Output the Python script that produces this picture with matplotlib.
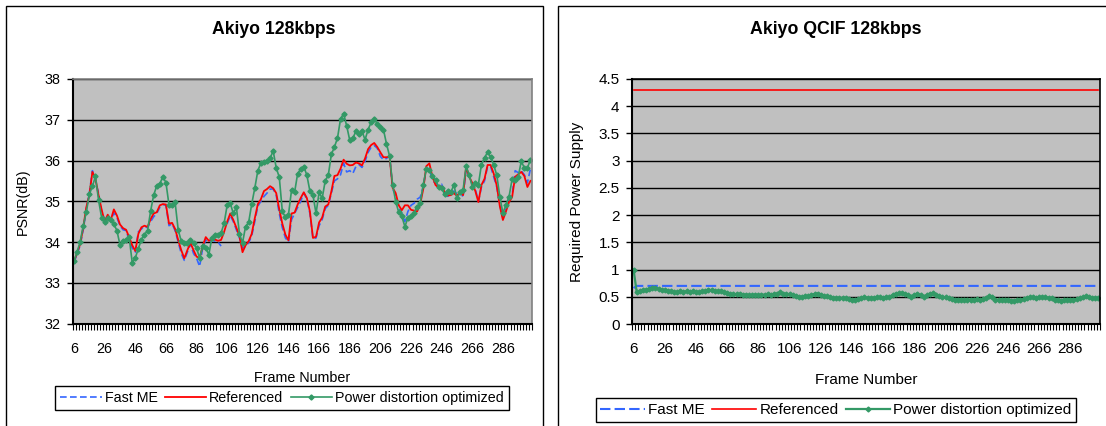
import numpy as np
import matplotlib
matplotlib.use("Agg")
import matplotlib.pyplot as plt
from matplotlib.patches import Rectangle
from matplotlib.ticker import FixedLocator

plt.rcParams['font.family'] = ['Liberation Sans', 'DejaVu Sans']

# frame numbers (every second frame)
frames = list(range(6, 306, 2))
tick_frames = list(range(6, 306, 20))

psnr_ticks = [32, 33, 34, 35, 36, 37, 38]
power_ticks = [0, 0.5, 1, 1.5, 2, 2.5, 3, 3.5, 4, 4.5]
power_tick_labels = ["0", "0.5", "1", "1.5", "2", "2.5", "3", "3.5", "4", "4.5"]

# PSNR (dB), Akiyo 128kbps
psnr_fast_me = [
    33.50, 33.70, 33.92, 34.30, 34.80, 35.20, 35.75, 35.50, 35.20, 34.75,
    34.55, 34.62, 34.50, 34.72, 34.60, 34.40, 34.30, 34.28, 34.05, 33.85,
    33.75, 34.25, 34.32, 34.38, 34.35, 34.50, 34.62, 34.70, 34.85, 34.92,
    34.90, 34.40, 34.45, 34.28, 34.00, 33.72, 33.55, 33.75, 33.95, 33.72,
    33.60, 33.40, 33.85, 34.05, 34.00, 34.05, 34.02, 34.00, 33.90, np.nan,
    34.45, 34.65, 34.50, 34.30, 34.10, 33.85, 33.90, 33.98, 34.15, 34.50,
    34.88, 35.00, 35.12, 35.20, 35.30, 35.30, 35.15, 34.70, 34.35, 34.10,
    34.00, 34.55, 34.70, 34.85, 35.00, 35.20, 35.05, 34.70, 34.08, 34.10,
    34.40, 34.55, 34.82, 34.90, 35.20, 35.50, 35.55, 35.65, 35.93, 35.72,
    35.75, 35.68, 35.85, 35.90, 35.83, 35.98, 36.20, 36.33, 36.37, 36.30,
    36.10, 36.02, 36.05, 36.12, 35.30, 35.15, 34.85, 34.70, 34.50, 34.75,
    34.90, 34.95, 35.05, 35.10, 35.35, 35.80, 35.80, 35.50, 35.45, 35.38,
    35.42, 35.20, 35.12, 35.20, 35.25, 35.18, 35.25, 35.10, 35.80, 35.65,
    35.40, 35.30, 35.00, 35.35, 35.50, 35.85, 35.85, 35.60, 35.35, 34.90,
    34.60, 34.80, 35.05, 35.15, 35.75, 35.70, 35.75, 35.65, 35.45, 35.80,
]
psnr_referenced = [
    33.53, 33.73, 33.95, 34.35, 34.85, 35.15, 35.72, 35.55, 35.15, 34.80,
    34.50, 34.67, 34.54, 34.80, 34.65, 34.43, 34.34, 34.30, 34.12, 33.92,
    33.78, 34.20, 34.36, 34.40, 34.37, 34.56, 34.70, 34.73, 34.90, 34.93,
    34.92, 34.45, 34.47, 34.32, 34.05, 33.80, 33.60, 33.80, 33.98, 33.80,
    33.64, 33.61, 33.90, 34.12, 34.03, 34.07, 34.06, 34.03, 34.05, 34.25,
    34.50, 34.70, 34.54, 34.35, 34.15, 33.75, 33.92, 34.02, 34.20, 34.58,
    34.93, 35.05, 35.25, 35.30, 35.37, 35.32, 35.20, 34.80, 34.45, 34.18,
    34.04, 34.70, 34.72, 34.92, 35.08, 35.22, 35.08, 34.75, 34.10, 34.13,
    34.48, 34.60, 34.87, 34.92, 35.24, 35.62, 35.64, 35.80, 36.02, 35.92,
    35.88, 35.89, 35.95, 35.93, 35.88, 36.05, 36.28, 36.38, 36.43, 36.33,
    36.20, 36.08, 36.08, 36.10, 35.33, 35.20, 34.90, 34.78, 34.90, 34.90,
    34.79, 34.77, 34.75, 34.93, 35.30, 35.86, 35.93, 35.60, 35.40, 35.33,
    35.36, 35.22, 35.14, 35.15, 35.20, 35.13, 35.22, 35.15, 35.85, 35.60,
    35.45, 35.25, 34.98, 35.40, 35.55, 35.89, 35.89, 35.68, 35.38, 34.88,
    34.54, 34.75, 34.98, 35.10, 35.60, 35.66, 35.72, 35.62, 35.35, 35.50,
]
psnr_pdo = [
    33.53, 33.76, 34.00, 34.40, 34.73, 35.17, 35.37, 35.61, 35.03, 34.60,
    34.49, 34.59, 34.54, 34.44, 34.28, 33.93, 34.02, 34.06, 34.12, 33.49,
    33.61, 33.84, 34.06, 34.18, 34.28, 34.76, 35.15, 35.38, 35.43, 35.60,
    35.46, 34.91, 34.91, 34.97, 34.30, 34.02, 33.98, 33.98, 34.06, 33.98,
    33.85, 33.61, 33.89, 33.85, 33.69, 34.10, 34.18, 34.18, 34.22, 34.46,
    34.91, 34.95, 34.70, 34.85, 34.20, 33.98, 34.38, 34.48, 34.93, 35.32,
    35.75, 35.94, 35.97, 36.00, 36.05, 36.24, 35.82, 35.59, 34.75, 34.61,
    34.67, 35.27, 35.22, 35.68, 35.79, 35.85, 35.64, 35.25, 35.15, 34.70,
    35.22, 35.07, 35.50, 35.64, 36.15, 36.33, 36.55, 37.02, 37.15, 36.85,
    36.50, 36.54, 36.72, 36.66, 36.72, 36.51, 36.76, 36.94, 37.02, 36.90,
    36.82, 36.76, 36.41, 36.11, 35.41, 34.99, 34.73, 34.63, 34.38, 34.59,
    34.63, 34.71, 34.87, 34.95, 35.41, 35.79, 35.76, 35.63, 35.52, 35.36,
    35.32, 35.17, 35.25, 35.22, 35.40, 35.07, 35.22, 35.28, 35.86, 35.64,
    35.36, 35.44, 35.41, 35.90, 36.07, 36.20, 36.09, 35.89, 35.64, 35.11,
    34.71, 34.91, 35.11, 35.54, 35.52, 35.60, 35.98, 35.82, 35.82, 36.02,
]

# required power supply, Akiyo QCIF 128kbps
power_fast_me = [0.66] + [0.70] * 149
power_referenced = [4.30] * 150
power_pdo = [
    1.00, 0.59, 0.60, 0.62, 0.63, 0.65, 0.67, 0.66, 0.65, 0.63,
    0.62, 0.61, 0.60, 0.59, 0.59, 0.60, 0.59, 0.60, 0.59, 0.60,
    0.59, 0.59, 0.60, 0.61, 0.63, 0.62, 0.61, 0.60, 0.60, 0.59,
    0.57, 0.56, 0.55, 0.55, 0.55, 0.54, 0.54, 0.53, 0.53, 0.54,
    0.53, 0.54, 0.54, 0.55, 0.54, 0.55, 0.56, 0.58, 0.56, 0.55,
    0.55, 0.53, 0.51, 0.50, 0.50, 0.51, 0.52, 0.54, 0.55, 0.56,
    0.54, 0.52, 0.51, 0.50, 0.48, 0.47, 0.47, 0.48, 0.47, 0.46,
    0.45, 0.44, 0.46, 0.48, 0.49, 0.48, 0.47, 0.48, 0.49, 0.49,
    0.48, 0.49, 0.50, 0.53, 0.56, 0.57, 0.57, 0.56, 0.53, 0.50,
    0.53, 0.56, 0.53, 0.50, 0.53, 0.56, 0.57, 0.54, 0.51, 0.50,
    0.49, 0.48, 0.46, 0.45, 0.45, 0.44, 0.44, 0.44, 0.45, 0.45,
    0.46, 0.45, 0.46, 0.48, 0.51, 0.49, 0.45, 0.44, 0.45, 0.44,
    0.44, 0.43, 0.43, 0.44, 0.45, 0.46, 0.48, 0.50, 0.49, 0.48,
    0.49, 0.50, 0.49, 0.48, 0.47, 0.45, 0.44, 0.43, 0.44, 0.45,
    0.45, 0.45, 0.46, 0.47, 0.49, 0.51, 0.49, 0.47, 0.48, 0.47,
]

labels = ["Fast ME", "Referenced", "Power distortion optimized"]
BLUE = "#3366ff"
RED = "#ff0000"
GREEN = "#339966"
PLOT_BG = "#c0c0c0"

W, H = 1106, 426
fig = plt.figure(figsize=(W / 100, H / 100), dpi=100)

# chart area borders
fig.add_artist(Rectangle((6 / W, -0.05), 537 / W, 1.05 - 5.5 / H, transform=fig.transFigure,
                         fill=False, edgecolor="black", lw=1))
fig.add_artist(Rectangle((558 / W, -0.05), 0.6, 1.05 - 5.5 / H, transform=fig.transFigure,
                         fill=False, edgecolor="black", lw=1))


def style_axes(ax, fs, spine_col):
    ax.set_facecolor(PLOT_BG)
    ax.set_xlim(5, 305)
    ax.set_xticks(tick_frames)
    ax.set_xticklabels([str(t) for t in tick_frames], fontsize=fs)
    ax.xaxis.set_minor_locator(FixedLocator(list(range(5, 306, 2))))
    ax.tick_params(axis="x", which="major", length=0, pad=13)
    ax.tick_params(axis="x", which="minor", length=4, width=0.8, direction="out")
    ax.tick_params(axis="y", which="major", length=4, width=1, direction="out", pad=5, labelsize=fs)
    ax.yaxis.grid(True, color="black", lw=1)
    ax.set_axisbelow(True)
    for s in ("left", "bottom"):
        ax.spines[s].set_linewidth(1.5)
        ax.spines[s].set_color("black")
    for s in ("top", "right"):
        ax.spines[s].set_linewidth(1.2)
        ax.spines[s].set_color(spine_col)


# ---- left: PSNR ----
ax1 = fig.add_axes([72.5 / W, 1 - 323.5 / H, 459.5 / W, 244.5 / H])
style_axes(ax1, 10.3, "#808080")
ax1.set_ylim(32, 38)
ax1.set_yticks(psnr_ticks)
l1, = ax1.plot(frames, psnr_fast_me, color=BLUE, lw=1.2, ls=(0, (4, 2)))
l2, = ax1.plot(frames, psnr_referenced, color=RED, lw=1.3)
l3, = ax1.plot(frames, psnr_pdo, color=GREEN, lw=1.2, marker="D", ms=2.6,
               mfc=GREEN, mec=GREEN)
ax1.set_ylabel("PSNR(dB)", fontsize=10.3)
ax1.yaxis.set_label_coords(-0.0925, 0.5)
ax1.set_xlabel("Frame Number", fontsize=10.3)
ax1.xaxis.set_label_coords(0.5, -0.194)
fig.text(274 / W, 1 - 30 / H, "Akiyo 128kbps", ha="center", va="center",
         fontsize=12.7, fontweight="bold")
leg1 = ax1.legend([l1, l2, l3], labels, loc="center", ncol=3,
                  bbox_to_anchor=(282 / W, 1 - 398 / H), bbox_transform=fig.transFigure,
                  fontsize=10.3, fancybox=False, framealpha=1, edgecolor="black",
                  borderpad=0.35, handlelength=2.9, handletextpad=0.2, columnspacing=0.5,
                  numpoints=1)
leg1.get_frame().set_linewidth(1)

# ---- right: required power ----
ax2 = fig.add_axes([632 / W, 1 - 324 / H, 468 / W, 245 / H])
style_axes(ax2, 11, "black")
ax2.set_ylim(0, 4.5)
ax2.set_yticks(power_ticks)
ax2.set_yticklabels(power_tick_labels)
r1, = ax2.plot(frames, power_fast_me, color=BLUE, lw=1.5, ls=(0, (5, 2)))
r2, = ax2.plot(frames, power_referenced, color=RED, lw=1.2)
r3, = ax2.plot(frames, power_pdo, color=GREEN, lw=1.6, marker="D", ms=2.5,
               mfc=GREEN, mec=GREEN)
ax2.set_ylabel("Required Power Supply", fontsize=11)
ax2.yaxis.set_label_coords(-0.1026, 0.5)
ax2.set_xlabel("Frame Number", fontsize=11)
ax2.xaxis.set_label_coords(0.5, -0.2)
fig.text(836 / W, 1 - 30 / H, "Akiyo QCIF 128kbps", ha="center", va="center",
         fontsize=12.8, fontweight="bold")
leg2 = ax2.legend([r1, r2, r3], labels, loc="center", ncol=3,
                  bbox_to_anchor=(836 / W, 1 - 410 / H), bbox_transform=fig.transFigure,
                  fontsize=11, fancybox=False, framealpha=1, edgecolor="black",
                  borderpad=0.3, handlelength=2.9, handletextpad=0.2, columnspacing=0.5,
                  numpoints=1)
leg2.get_frame().set_linewidth(1)

fig.savefig("out.png", dpi=100)
